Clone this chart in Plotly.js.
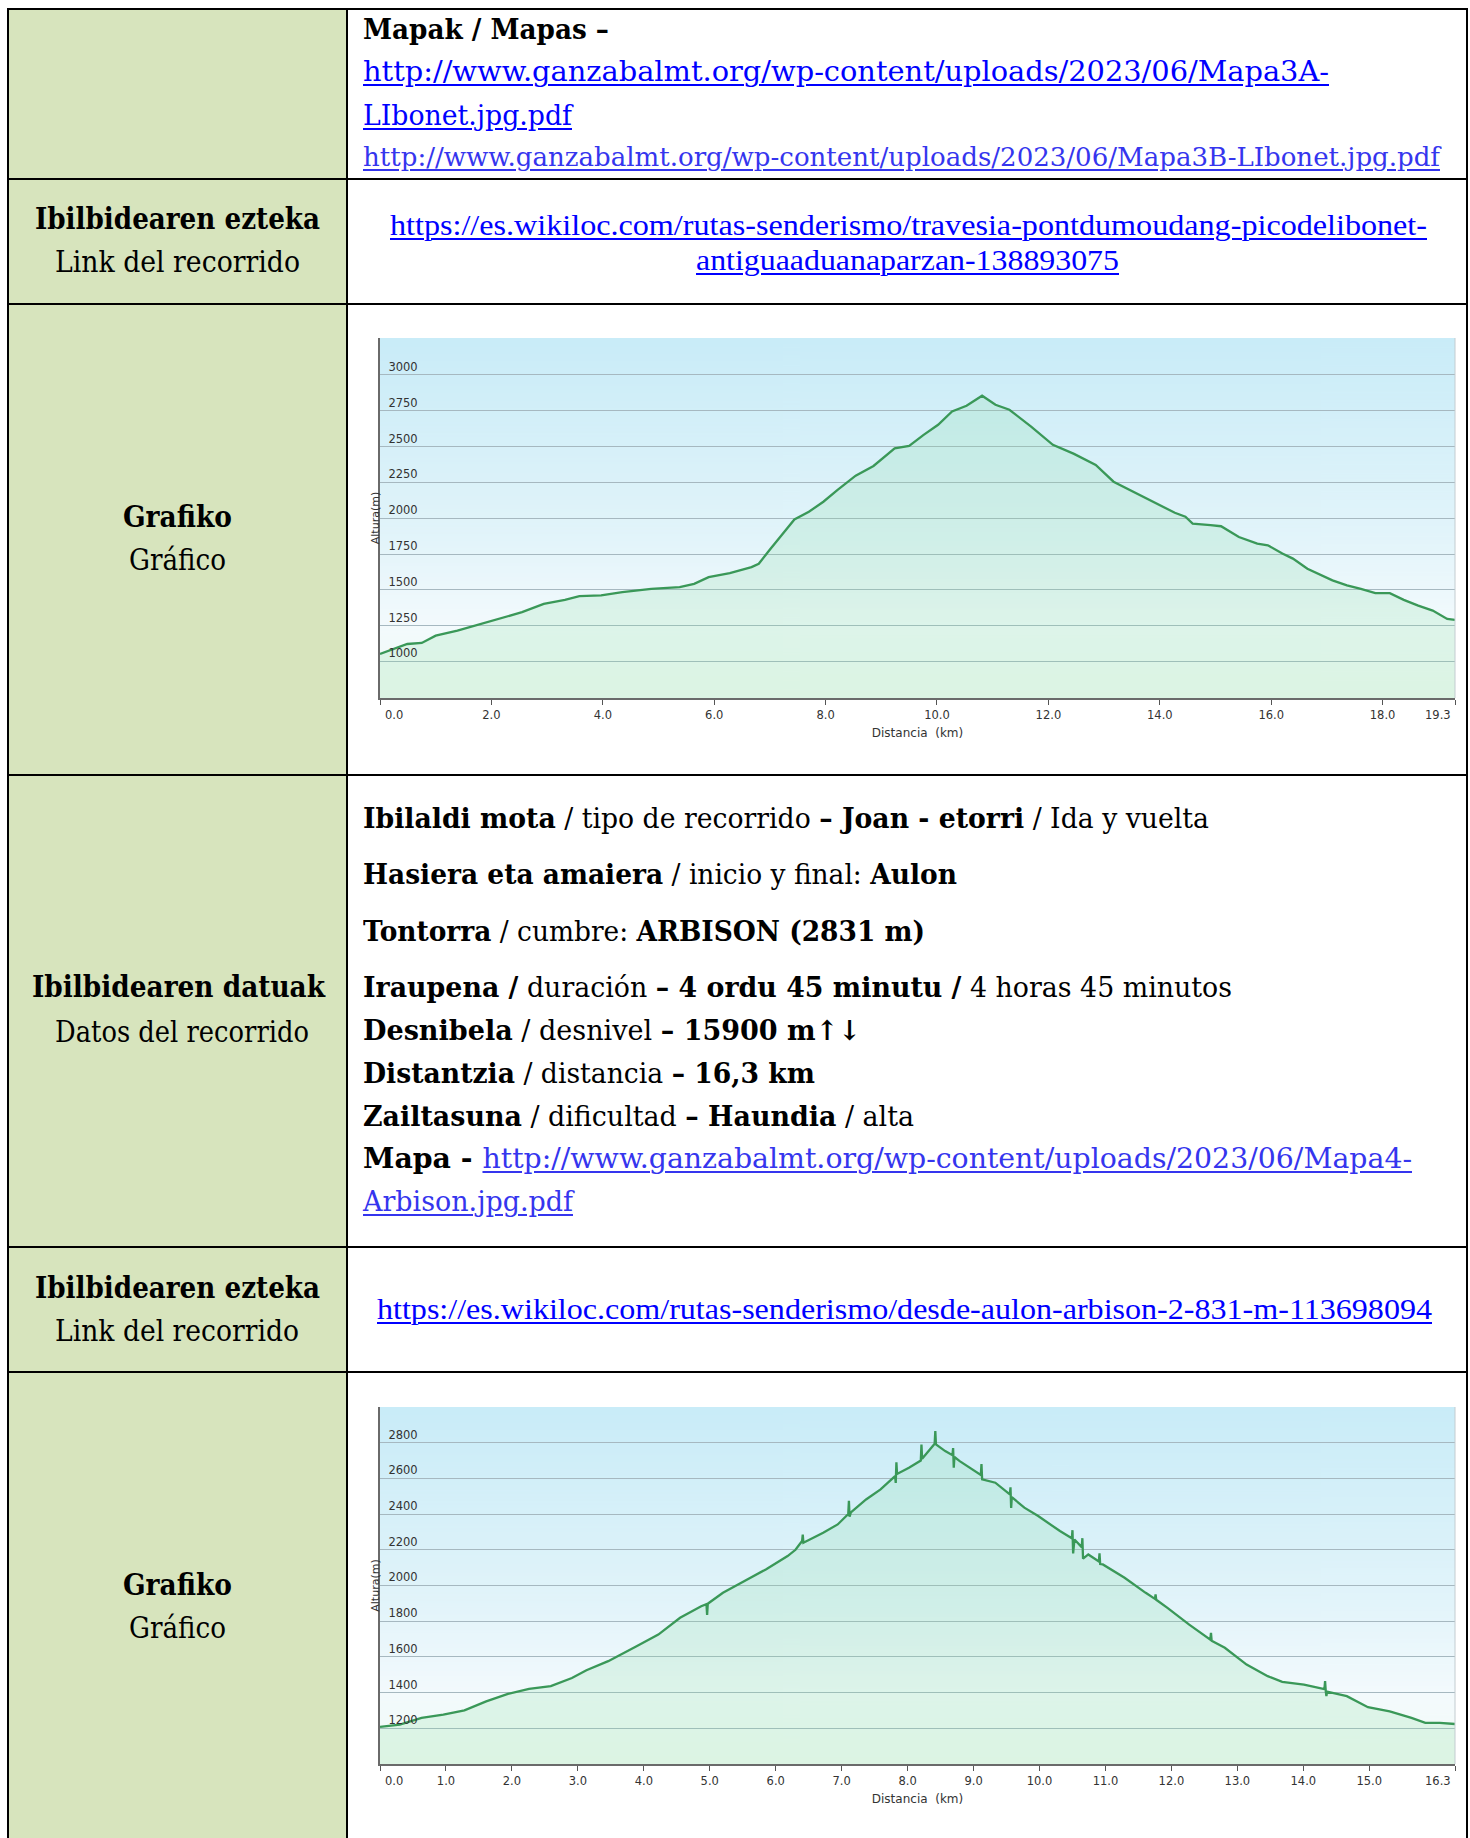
<!DOCTYPE html>
<html>
<head>
<meta charset="utf-8">
<script src="https://cdn.plot.ly/plotly-3.0.1.min.js"></script>
<style>
  html,body{margin:0;padding:0;background:#fff;}
  body{width:1470px;height:1838px;position:relative;overflow:hidden;}
  .bg{position:absolute;background:#d7e4bd;}
  .h{position:absolute;height:2px;background:#000;}
  .v{position:absolute;width:2px;background:#000;}
  .ln{position:absolute;white-space:nowrap;line-height:0;transform-origin:0 50%;color:#000;}
  .c{font-family:"DejaVu Serif",serif;}
  .t{font-family:"Liberation Serif","Times New Roman",serif;}
  .lk{color:#0000ff;text-decoration:underline;text-decoration-thickness:1.5px;text-underline-offset:3px;}
  .lk2{color:#3535ee;text-decoration:underline;text-decoration-thickness:1.5px;text-underline-offset:3px;}
  .chart{position:absolute;}
</style>
</head>
<body>
<div class="bg" style="left:8px;top:9px;width:339px;height:1840px;"></div>

<div class="h" style="left:7px;top:8px;width:1461px;"></div>
<div class="h" style="left:7px;top:178px;width:1461px;"></div>
<div class="h" style="left:7px;top:303px;width:1461px;"></div>
<div class="h" style="left:7px;top:774px;width:1461px;"></div>
<div class="h" style="left:7px;top:1246px;width:1461px;"></div>
<div class="h" style="left:7px;top:1371px;width:1461px;"></div>
<div class="v" style="left:7px;top:8px;height:1840px;"></div>
<div class="v" style="left:346px;top:8px;height:1840px;"></div>
<div class="v" style="left:1466px;top:8px;height:1840px;"></div>

<!-- Row 1 -->
<div class="ln c" style="left:363px;top:29px;font-size:27.5px;font-weight:bold" data-w="246">Mapak / Mapas –</div>
<div class="ln c lk" style="left:363px;top:71px;font-size:27.5px" data-w="966">http://www.ganzabalmt.org/wp-content/uploads/2023/06/Mapa3A-</div>
<div class="ln c lk" style="left:363px;top:115px;font-size:27.5px" data-w="209">LIbonet.jpg.pdf</div>
<div class="ln c lk2" style="left:363px;top:157px;font-size:25.5px" data-w="1077">http://www.ganzabalmt.org/wp-content/uploads/2023/06/Mapa3B-LIbonet.jpg.pdf</div>

<!-- Row 2 -->
<div class="ln c" style="left:35px;top:219px;font-size:29px;font-weight:bold" data-w="285">Ibilbidearen ezteka</div>
<div class="ln c" style="left:55px;top:262px;font-size:29px" data-w="245">Link del recorrido</div>
<div class="ln t lk" style="left:390px;top:225px;font-size:30px" data-w="1037">https://es.wikiloc.com/rutas-senderismo/travesia-pontdumoudang-picodelibonet-</div>
<div class="ln t lk" style="left:696px;top:260px;font-size:30px" data-w="423">antiguaaduanaparzan-138893075</div>

<!-- Row 3 -->
<div class="ln c" style="left:123px;top:517px;font-size:29px;font-weight:bold" data-w="109">Grafiko</div>
<div class="ln c" style="left:129px;top:560px;font-size:29px" data-w="97">Gráfico</div>
<div id="chart1" class="chart" style="left:352px;top:318px;width:1110px;height:452px;"></div>

<!-- Row 4 -->
<div class="ln c" style="left:32px;top:987px;font-size:29px;font-weight:bold" data-w="293">Ibilbidearen datuak</div>
<div class="ln c" style="left:55px;top:1032px;font-size:29px" data-w="254">Datos del recorrido</div>
<div class="ln c" style="left:363px;top:818px;font-size:27.5px" data-w="846"><b>Ibilaldi mota</b> / tipo de recorrido <b>– Joan - etorri</b> / Ida y vuelta</div>
<div class="ln c" style="left:363px;top:874px;font-size:27.5px" data-w="594"><b>Hasiera eta amaiera</b> / inicio y final: <b>Aulon</b></div>
<div class="ln c" style="left:363px;top:931px;font-size:27.5px" data-w="562"><b>Tontorra</b> / cumbre: <b>ARBISON (2831 m)</b></div>
<div class="ln c" style="left:363px;top:987px;font-size:27.5px" data-w="869"><b>Iraupena /</b> duración <b>– 4 ordu 45 minutu /</b> 4 horas 45 minutos</div>
<div class="ln c" style="left:363px;top:1030px;font-size:27.5px" data-w="498"><b>Desnibela</b> / desnivel <b>– 15900 m↑↓</b></div>
<div class="ln c" style="left:363px;top:1073px;font-size:27.5px" data-w="452"><b>Distantzia</b> / distancia <b>– 16,3 km</b></div>
<div class="ln c" style="left:363px;top:1116px;font-size:27.5px" data-w="551"><b>Zailtasuna</b> / dificultad <b>– Haundia</b> / alta</div>
<div class="ln c" style="left:363px;top:1158px;font-size:27.5px" data-w="1049"><b>Mapa - </b><span class="lk2">http://www.ganzabalmt.org/wp-content/uploads/2023/06/Mapa4-</span></div>
<div class="ln c lk2" style="left:363px;top:1201px;font-size:27.5px" data-w="210">Arbison.jpg.pdf</div>

<!-- Row 5 -->
<div class="ln c" style="left:35px;top:1288px;font-size:29px;font-weight:bold" data-w="285">Ibilbidearen ezteka</div>
<div class="ln c" style="left:55px;top:1331px;font-size:29px" data-w="244">Link del recorrido</div>
<div class="ln t lk" style="left:377px;top:1309px;font-size:30px" data-w="1055">https://es.wikiloc.com/rutas-senderismo/desde-aulon-arbison-2-831-m-113698094</div>

<!-- Row 6 -->
<div class="ln c" style="left:123px;top:1585px;font-size:29px;font-weight:bold" data-w="109">Grafiko</div>
<div class="ln c" style="left:129px;top:1628px;font-size:29px" data-w="97">Gráfico</div>
<div id="chart2" class="chart" style="left:352px;top:1387px;width:1110px;height:449px;"></div>

<script>
// ---------- Data: chart 1 (Pont du Moudang – Pico de Libonet) ----------
const dist1 = [0,0.23,0.49,0.75,1.0,1.39,1.78,2.03,2.55,2.94,3.32,3.58,3.97,4.35,4.87,5.38,5.64,5.90,6.28,6.67,6.80,6.99,7.18,7.44,7.70,7.96,8.21,8.54,8.86,9.24,9.50,9.76,10.02,10.27,10.53,10.81,11.05,11.30,11.69,12.08,12.46,12.85,13.17,13.49,13.88,14.27,14.46,14.59,14.91,15.10,15.42,15.75,15.94,16.20,16.39,16.65,17.10,17.36,17.61,17.87,18.13,18.38,18.64,18.90,19.16,19.3];
const alt1  = [1052,1087,1122,1129,1180,1215,1257,1285,1344,1402,1430,1456,1461,1484,1507,1519,1542,1589,1617,1659,1682,1776,1869,1991,2045,2115,2196,2297,2365,2488,2505,2582,2652,2745,2785,2855,2792,2757,2640,2512,2449,2372,2255,2192,2115,2038,2010,1963,1951,1944,1869,1823,1811,1753,1718,1647,1566,1531,1507,1477,1477,1430,1390,1355,1297,1290];
const xTicks1 = [0,2,4,6,8,10,12,14,16,18,19.3];
const yTicks1 = [1000,1250,1500,1750,2000,2250,2500,2750,3000];

// ---------- Data: chart 2 (Aulon – Arbison) ----------
const dist2 = [0,0.30,0.63,0.96,1.28,1.61,1.94,2.26,2.59,2.91,3.13,3.46,3.89,4.22,4.55,4.87,4.95,4.96,4.97,5.20,5.52,5.85,6.18,6.30,6.40,6.41,6.42,6.72,6.94,7.10,7.11,7.12,7.14,7.37,7.59,7.81,7.82,7.83,7.84,8.02,8.20,8.21,8.22,8.41,8.42,8.43,8.57,8.68,8.69,8.70,8.71,8.79,9.11,9.12,9.13,9.33,9.55,9.56,9.57,9.58,9.77,9.98,10.31,10.49,10.50,10.51,10.53,10.64,10.65,10.66,10.74,10.90,10.91,10.92,10.96,11.29,11.61,11.75,11.76,11.77,11.94,12.27,12.59,12.60,12.61,12.81,13.14,13.46,13.68,14.01,14.32,14.33,14.34,14.35,14.36,14.66,14.98,15.31,15.64,15.85,16.07,16.3];
const alt2  = [1208,1221,1258,1277,1301,1351,1393,1421,1436,1482,1525,1576,1660,1725,1819,1884,1895,1835,1898,1959,2024,2090,2165,2200,2249,2285,2240,2295,2342,2400,2475,2385,2410,2482,2538,2613,2575,2690,2625,2660,2700,2790,2710,2794,2865,2790,2753,2730,2770,2660,2720,2697,2619,2680,2595,2576,2510,2550,2435,2495,2436,2389,2305,2265,2310,2180,2258,2215,2265,2150,2174,2135,2180,2120,2118,2043,1959,1925,1950,1920,1875,1781,1697,1735,1690,1651,1557,1492,1460,1445,1420,1465,1410,1380,1405,1380,1318,1295,1258,1230,1230,1224];
const xTicks2 = [0,1,2,3,4,5,6,7,8,9,10,11,12,13,14,15,16.3];
const yTicks2 = [1200,1400,1600,1800,2000,2200,2400,2600,2800];

// ---------- fit text lines to measured widths ----------
document.querySelectorAll('.ln').forEach(el => {
  const w = parseFloat(el.dataset.w);
  const nat = el.getBoundingClientRect().width;
  if (w && nat) el.style.transform = 'scaleX(' + (w / nat) + ')';
});

// ---------- gradient background for the plot area ----------
function gradientURL() {
  const c = document.createElement('canvas');
  c.width = 4; c.height = 400;
  const g = c.getContext('2d');
  const gr = g.createLinearGradient(0, 0, 0, 400);
  gr.addColorStop(0, '#c9ecf8');
  gr.addColorStop(0.55, '#e2f4fa');
  gr.addColorStop(0.8, '#f3fafd');
  gr.addColorStop(1, '#f2fbf4');
  g.fillStyle = gr; g.fillRect(0, 0, 4, 400);
  return c.toDataURL();
}
const bgURL = gradientURL();

function makeChart(id, xs, ys, xr, yr, xt, yt, h) {
  const trace = {
    x: xs, y: ys, type: 'scatter', mode: 'lines',
    line: {color: '#3a9858', width: 2.3},
    fill: 'tozeroy', fillcolor: 'rgba(135,220,160,0.20)',
    hoverinfo: 'skip'
  };
  const font = {family: 'DejaVu Sans, Verdana, sans-serif', size: 11.5, color: '#333'};
  const last = xt.length - 1;
  // inner tick labels come from the axis; the two end labels sit inside the plot edges
  const ticktext = xt.map((v, i) => (i === 0 || i === last) ? '' : v.toFixed(1));
  const endLabels = [
    {x: xt[0], xanchor: 'left', xshift: 3},
    {x: xt[last], xanchor: 'right', xshift: -2}
  ].map(a => Object.assign({
    text: a.x.toFixed(1), xref: 'x', yref: 'paper', y: 0, yanchor: 'top', yshift: -8,
    showarrow: false, font: font
  }, a));
  const layout = {
    width: 1110, height: h,
    margin: {l: 28, r: 7, t: 20, b: h - 20 - (h === 452 ? 360 : 357)},
    paper_bgcolor: 'rgba(0,0,0,0)', plot_bgcolor: 'rgba(0,0,0,0)',
    showlegend: false, font: font,
    xaxis: {
      range: xr, tickvals: xt, ticktext: ticktext,
      showgrid: false, zeroline: false, showline: true, linecolor: '#6a6a6a', linewidth: 2,
      ticks: 'outside', ticklen: 5, tickwidth: 1, tickcolor: '#555',
      tickfont: font,
      title: {text: 'Distancia  (km)', font: {family: font.family, size: 12, color: '#333'}, standoff: 8}
    },
    yaxis: {
      range: yr, tickvals: yt, ticktext: yt.map(String),
      showgrid: true, gridcolor: '#a6b8c0', gridwidth: 1,
      zeroline: false, showline: true, linecolor: '#6a6a6a', linewidth: 2,
      ticks: '', ticklabelposition: 'outside top', ticklabelstandoff: -42,
      ticklabeloverflow: 'allow', tickfont: font,
      title: {text: 'Altura(m)', font: {family: font.family, size: 11, color: '#333'}, standoff: 7}
    },
    annotations: endLabels,
    images: [{
      source: bgURL, xref: 'paper', yref: 'paper', x: 0, y: 1, sizex: 1, sizey: 1,
      sizing: 'stretch', xanchor: 'left', yanchor: 'top', layer: 'below'
    }],
    shapes: [{type: 'line', xref: 'paper', yref: 'paper', x0: 1, x1: 1, y0: 0, y1: 1,
      line: {color: '#c3ccd0', width: 1}}]
  };
  Plotly.newPlot(id, [trace], layout, {displayModeBar: false, staticPlot: true});
}

makeChart('chart1', dist1, alt1, [0, 19.3], [745, 3258], xTicks1, yTicks1, 452);
makeChart('chart2', dist2, alt2, [0, 16.3], [1000, 3000], xTicks2, yTicks2, 449);
</script>
</body>
</html>
